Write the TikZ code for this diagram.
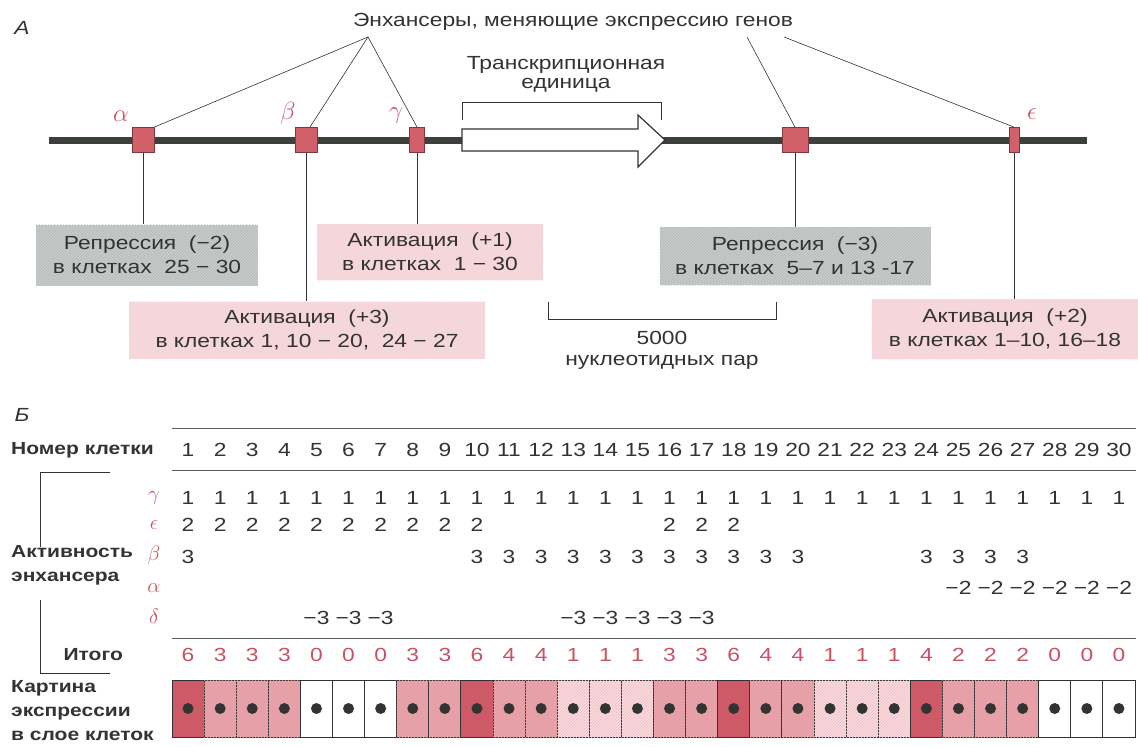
\documentclass[tikz,border=0pt]{standalone}
\usepackage{fontspec}
\setmainfont{Liberation Sans}[FakeStretch=1.2]
\usepackage{xcolor}
\usetikzlibrary{patterns}
\definecolor{dnagray}{HTML}{3B403B}
\definecolor{enhred}{HTML}{D2606B}
\definecolor{enhline}{HTML}{7E3A3E}
\definecolor{labred}{HTML}{C85262}
\definecolor{actpink}{HTML}{F7D6DA}
\definecolor{repgray}{HTML}{B9C0BE}
\definecolor{inkgray}{HTML}{333333}
\definecolor{celldark}{HTML}{CF5A67}
\definecolor{cellmid}{HTML}{EBA3AB}
\definecolor{celllight}{HTML}{F8DCE0}
\newcommand\txtsize{\fontsize{19}{24}\selectfont}

\begin{document}
\begin{tikzpicture}[x=1pt, y=-1pt,
  txt/.style={text=inkgray, font=\txtsize, inner sep=1pt},
  boldtxt/.style={txt, font=\fontsize{17.5}{24}\selectfont\bfseries},
  greek/.style={text=labred, font=\fontsize{23}{24}\selectfont, inner sep=0pt},
  rowgreek/.style={greek, font=\fontsize{20}{24}\selectfont},
  panelmark/.style={txt, font=\txtsize\itshape},
  enh/.style={draw=enhline, line width=0.8pt, fill=enhred, minimum height=25pt, inner sep=0pt},
  conn/.style={draw=inkgray, line width=0.6pt},
  infobox/.style={txt, align=center, inner sep=0pt},
  act/.style={infobox, fill=actpink, postaction={pattern=north east lines, pattern color=labred!22}},
  rep/.style={infobox, fill=repgray, postaction={pattern=north east lines, pattern color=black!18}},
  num/.style={txt, inner sep=0pt},
  rule/.style={draw=inkgray!80, line width=0.6pt},
  cell/.style={draw=inkgray, line width=0.9pt, minimum width=32.1pt, minimum height=57pt, inner sep=0pt, outer sep=0pt},
  darkcell/.style={cell, fill=celldark},
  midcell/.style={cell, fill=cellmid, postaction={pattern=north east lines, pattern color=celldark!60}},
  lightcell/.style={cell, fill=celllight, postaction={pattern=north east lines, pattern color=cellmid!70}},
  blankcell/.style={cell, fill=white}]
  \useasboundingbox (0,0) rectangle (1138,747);

  % panel A: the gene with its enhancers
  \node[panelmark] (markA) at (22,28) {А};
  \node[txt] (title) at (573,22) {Энхансеры, меняющие экспрессию генов};
  \coordinate (fanL) at (368,37);
  \coordinate (fanR) at (747,37);
  \coordinate (fanE) at (784,37);

  \coordinate (dnaL) at (49,140);
  \coordinate (dnaR) at (1087,140);
  \draw[draw=dnagray, line width=7pt] (dnaL) -- (dnaR);

  \draw[draw=inkgray, line width=1.2pt, fill=white] (462,129) -- (638,129) -- (638,115) -- (665,140) -- (638,167) -- (638,151) -- (462,151) -- cycle;
  \draw[conn] (462,120) -- (462,102) -- (661,102) -- (661,120);
  \node[txt, align=center, font=\fontsize{19}{19}\selectfont] (unit) at (566,74) {Транскрипционная\\единица};

  \node[enh, minimum width=22pt] (ea) at (143,140) {};
  \node[enh, minimum width=22pt] (eb) at (306,140) {};
  \node[enh, minimum width=15pt] (eg) at (417,140) {};
  \node[enh, minimum width=26pt] (ed) at (795,140) {};
  \node[enh, minimum width=10pt] (ee) at (1014,140) {};
  \node[greek] (la) at (121,116) {$\alpha$};
  \node[greek] (lb) at (288,113) {$\beta$};
  \node[greek] (lg) at (396,116) {$\gamma$};
  \node[greek] (le) at (1032,114) {$\epsilon$};

  \draw[conn] (fanL) -- (ea.north east);
  \draw[conn] (fanL) -- ([xshift=4pt]eb.north);
  \draw[conn] (fanL) -- (eg.north);
  \draw[conn] (fanR) -- (ed.north);
  \draw[conn] (fanE) -- (ee.north);

  \node[rep, minimum width=222pt, minimum height=61pt] (boxA) at (147,255) {Репрессия\ \ (−2)\\в клетках\ \ 25 − 30};
  \node[act, minimum width=226pt, minimum height=56pt] (boxG) at (430,252) {Активация\ \ (+1)\\в клетках\ \ 1 − 30};
  \node[act, minimum width=356pt, minimum height=57pt] (boxB) at (307,330) {Активация\ \ (+3)\\в клетках 1, 10 − 20,\ \ 24 − 27};
  \node[rep, minimum width=271pt, minimum height=58pt] (boxD) at (795,256) {Репрессия\ \ (−3)\\в клетках\ \ 5–7 и 13 -17};
  \node[act, minimum width=267pt, minimum height=60pt] (boxE) at (1005,329) {Активация\ \ (+2)\\в клетках 1–10, 16–18};

  \draw[conn] (ea) -- (ea |- boxA.north);
  \draw[conn] (eb) -- (eb |- boxB.north);
  \draw[conn] (eg) -- (eg |- boxG.north);
  \draw[conn] (ed) -- (ed |- boxD.north);
  \draw[conn] (ee) -- (ee |- boxE.north);

  \draw[conn] (548,302) -- (548,319) -- (776,319) -- (776,302);
  \node[txt, align=center, font=\fontsize{19}{21}\selectfont] (scale) at (662,350) {5000\\нуклеотидных пар};

  % panel B: activity of the enhancers in the 30 cells
  \node[panelmark] (markB) at (22,415) {Б};
  \draw[rule] (172,428) -- (1136,428);
  \draw[rule] (172,470) -- (1136,470);
  \draw[rule] (172,638) -- (1136,638);
  \node[boldtxt, anchor=west] (cellno) at (10,450) {Номер клетки};
  \foreach \i in {1,...,30}
    \node[num] (n\i) at ({172+32.1*(\i-0.5)},450) {\i};

  \draw[conn] (110,472) -- (40,472) -- (40,547);
  \draw[conn] (40,600) -- (40,673) -- (110,673);
  \node[boldtxt, anchor=west, align=left] (activity) at (10,565) {Активность\\энхансера};
  \node[rowgreek] (rg) at (154,498) {$\gamma$};
  \node[rowgreek] (re) at (154,525) {$\epsilon$};
  \node[rowgreek] (rb) at (154,555) {$\beta$};
  \node[rowgreek] (ra) at (154,588) {$\alpha$};
  \node[rowgreek] (rd) at (154,616) {$\delta$};
  \foreach \i in {1,...,30}
    \node[num] (g\i) at ({172+32.1*(\i-0.5)},498) {1};
  \foreach \i in {1,...,10,16,17,18}
    \node[num] (e\i) at ({172+32.1*(\i-0.5)},525) {2};
  \foreach \i in {1,10,11,...,20,24,25,26,27}
    \node[num] (b\i) at ({172+32.1*(\i-0.5)},557) {3};
  \foreach \i in {25,...,30}
    \node[num] (a\i) at ({172+32.1*(\i-0.5)},588) {−2};
  \foreach \i in {5,6,7,13,14,15,16,17}
    \node[num] (d\i) at ({172+32.1*(\i-0.5)},618) {−3};

  \node[boldtxt, anchor=east] (total) at (124,655) {Итого};
  \node[boldtxt, anchor=west, align=left] (pattern) at (10,711) {Картина\\экспрессии\\в слое клеток};
  \foreach \i/\t/\s in {1/6/darkcell, 2/3/midcell, 3/3/midcell, 4/3/midcell, 5/0/blankcell,
      6/0/blankcell, 7/0/blankcell, 8/3/midcell, 9/3/midcell, 10/6/darkcell,
      11/4/midcell, 12/4/midcell, 13/1/lightcell, 14/1/lightcell, 15/1/lightcell,
      16/3/midcell, 17/3/midcell, 18/6/darkcell, 19/4/midcell, 20/4/midcell,
      21/1/lightcell, 22/1/lightcell, 23/1/lightcell, 24/4/darkcell, 25/2/midcell,
      26/2/midcell, 27/2/midcell, 28/0/blankcell, 29/0/blankcell, 30/0/blankcell} {
    \node[num, text=labred] (t\i) at ({172+32.1*(\i-0.5)},655) {\t};
    \node[\s] (c\i) at ({172+32.1*(\i-0.5)},708.5) {};
    \fill[inkgray] (c\i.center) circle (5.5pt);
  }
\end{tikzpicture}
\end{document}
